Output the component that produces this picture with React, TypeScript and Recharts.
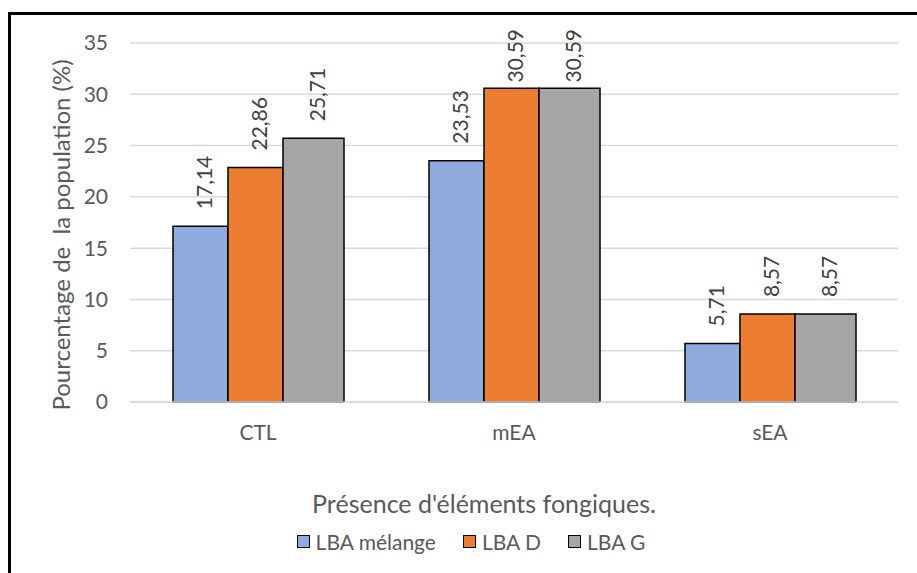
import { BarChart, Bar, XAxis, YAxis, CartesianGrid, LabelList } from 'recharts';

const categories = ['CTL', 'mEA', 'sEA'];
const lbaMelange = [17.14, 23.53, 5.71];
const lbaD = [22.86, 30.59, 8.57];
const lbaG = [25.71, 30.59, 8.57];
const yTicks = [0, 5, 10, 15, 20, 25, 30, 35];

const series = [
  { key: 'melange', name: 'LBA mélange', values: lbaMelange, color: '#8FAADC', size: 55 },
  { key: 'd', name: 'LBA D', values: lbaD, color: '#ED7D31', size: 55 },
  { key: 'g', name: 'LBA G', values: lbaG, color: '#A5A5A5', size: 61 },
];

const data = categories.map((cat, i) => {
  const row: Record<string, string | number> = { cat };
  series.forEach((s) => {
    row[s.key] = s.values[i];
  });
  return row;
});

const FONT = 'Lato, "DejaVu Sans", sans-serif';
const LABEL_SIZE = 21;

const fmt = (v: number) => v.toFixed(2).replace('.', ',');

// labels sit above the bar, but get pushed down when they would leave the plot
const RotatedLabel = (props: any) => {
  const { x, y, width, value } = props;
  const txt = fmt(value);
  const len = txt.length * 10.5;
  const cx = x + width / 2 + 3;
  let ty = y - 17;
  if (ty - len < 30) ty = 30 + len;
  return (
    <text
      x={cx}
      y={ty}
      transform={`rotate(-90 ${cx} ${ty})`}
      textAnchor="start"
      dominantBaseline="central"
      fontSize={LABEL_SIZE}
      fill="#404040"
      fontFamily={FONT}
    >
      {txt}
    </text>
  );
};

const YTitle = () => (
  <text
    x={60}
    y={235}
    transform="rotate(-90 60 235)"
    textAnchor="middle"
    dominantBaseline="central"
    fontSize={24}
    fill="#595959"
    fontFamily={FONT}
    style={{ whiteSpace: 'pre' }}
  >
    {'Pourcentage de \u00a0la population (%)'}
  </text>
);

export default function App() {
  return (
    <div style={{ position: 'absolute', left: 0, top: 0, width: 917, height: 573, overflow: 'hidden', background: '#fff' }}>
      <div
        style={{
          position: 'absolute',
          left: 8,
          top: 12,
          width: 1000,
          height: 1000,
          borderTop: '3px solid #000',
          borderLeft: '3px solid #000',
        }}
      />
      <div style={{ position: 'absolute', left: 0, top: 0 }}>
        <BarChart
          width={917}
          height={573}
          data={data}
          margin={{ top: 43, right: 19, bottom: 141, left: 60 }}
          barGap={0}
        >
          <CartesianGrid vertical={false} stroke="#D9D9D9" strokeWidth={1.5} />
          <XAxis
            dataKey="cat"
            height={30}
            axisLine={{ stroke: '#D9D9D9', strokeWidth: 1.5 }}
            tickLine={false}
            tick={{ fontSize: 21, fill: '#595959', fontFamily: FONT }}
            tickMargin={17}
          />
          <YAxis
            width={70}
            domain={[0, 35]}
            ticks={yTicks}
            axisLine={false}
            tickLine={false}
            tick={{ fontSize: 21, fill: '#595959', fontFamily: FONT }}
            tickMargin={16}
            label={<YTitle />}
          />
          {series.map((s) => (
            <Bar
              key={s.key}
              dataKey={s.key}
              name={s.name}
              fill={s.color}
              stroke="#000"
              strokeWidth={1.5}
              barSize={s.size}
              isAnimationActive={false}
            >
              <LabelList dataKey={s.key} content={<RotatedLabel />} />
            </Bar>
          ))}
        </BarChart>
      </div>
      <div
        style={{
          position: 'absolute',
          left: 234,
          width: 500,
          top: 488,
          textAlign: 'center',
          fontFamily: FONT,
          fontSize: 25,
          color: '#595959',
        }}
      >
        Présence d'éléments fongiques.
      </div>
      <div
        style={{
          position: 'absolute',
          left: 221,
          width: 500,
          top: 529,
          display: 'flex',
          justifyContent: 'center',
          alignItems: 'center',
          fontFamily: FONT,
          fontSize: 21,
          color: '#595959',
        }}
      >
        {series.map((s, i) => (
          <div key={s.key} style={{ display: 'flex', alignItems: 'center', marginLeft: i === 0 ? 0 : 27 }}>
            <span
              style={{
                display: 'inline-block',
                width: 11,
                height: 11,
                background: s.color,
                border: '1.5px solid #000',
                marginRight: 6,
              }}
            />
            <span>{s.name}</span>
          </div>
        ))}
      </div>
    </div>
  );
}
